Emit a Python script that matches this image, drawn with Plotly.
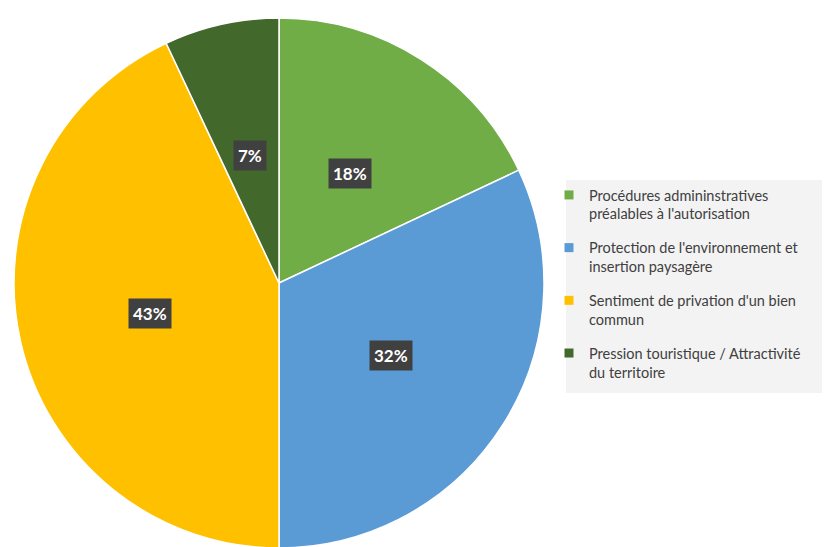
import math
import plotly.graph_objects as go

categories = [
    "Procédures admininstratives<br>préalables à l'autorisation",
    "Protection de l'environnement et<br>insertion paysagère",
    "Sentiment de privation d'un bien<br>commun",
    "Pression touristique / Attractivité<br>du territoire",
]
values = [18, 32, 43, 7]
colors = ["#70AD47", "#5B9BD5", "#FFC000", "#43682B"]

W, H = 830, 547
OFF = 8  # page body margin of the viewer
cx_px, cy_px, r_px = 279 - OFF, 283 - OFF, 265


def px_x(p):
    return (p - OFF) / W


def px_y(p):
    return 1 - (p - OFF) / H


fig = go.Figure()
fig.add_trace(go.Pie(
    labels=categories,
    values=values,
    sort=False,
    direction="clockwise",
    rotation=0,
    marker=dict(colors=colors, line=dict(color="white", width=1.5)),
    textinfo="none",
    hoverinfo="label+percent",
    showlegend=False,
    domain=dict(x=[max(0, (cx_px - r_px) / W), min(1, (cx_px + r_px) / W)],
                y=[max(0, 1 - (cy_px + r_px) / H), min(1, 1 - (cy_px - r_px) / H)]),
))

# legend entries (one group each so the gap between entries can be set)
for i, (name, col) in enumerate(zip(categories, colors)):
    fig.add_trace(go.Scatter(
        x=[None], y=[None], mode="markers", name=name,
        marker=dict(symbol="square", size=9, color=col),
        legendgroup="g%d" % i, hoverinfo="skip",
    ))

# percentage labels in dark boxes, placed at half radius along each slice's mid-angle
total = sum(values)
cum = 0
for v in values:
    mid = (cum + v / 2) / total * 2 * math.pi
    cum += v
    px = cx_px + 0.5 * r_px * math.sin(mid)
    py = cy_px - 0.5 * r_px * math.cos(mid) + 2
    fig.add_annotation(
        x=px / W, y=1 - py / H, xref="paper", yref="paper",
        xanchor="center", yanchor="middle",
        text="<b>%d%%</b>" % round(v / total * 100),
        showarrow=False,
        font=dict(family="Lato", size=17, color="white"),
        bgcolor="#404040", borderpad=4,
    )

# legend background panel
fig.add_shape(type="rect", xref="paper", yref="paper",
              x0=px_x(566), x1=1.0, y0=px_y(393), y1=px_y(180),
              fillcolor="#F3F3F3", line=dict(width=0), layer="below")

fig.update_layout(
    width=W, height=H,
    margin=dict(l=0, r=0, t=0, b=0),
    paper_bgcolor="white",
    plot_bgcolor="rgba(0,0,0,0)",
    xaxis=dict(visible=False),
    yaxis=dict(visible=False),
    showlegend=True,
    legend=dict(
        x=px_x(549), y=px_y(179), xanchor="left", yanchor="top",
        bgcolor="rgba(0,0,0,0)",
        font=dict(family="Lato", size=14.5, color="#404040"),
        valign="top",
        itemwidth=30,
        tracegroupgap=12,
        itemclick=False, itemdoubleclick=False,
    ),
)

fig.write_html("out.html")
